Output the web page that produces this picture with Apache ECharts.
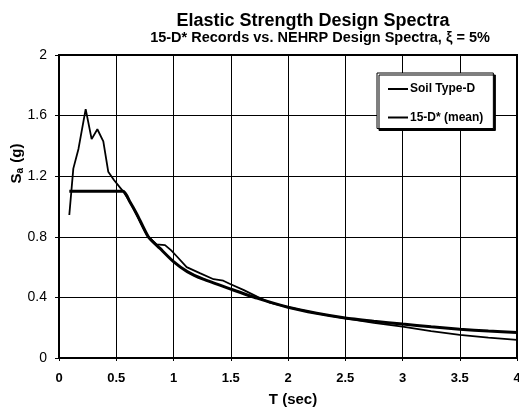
<!DOCTYPE html>
<html>
<head>
<meta charset="utf-8">
<script src="https://cdn.jsdelivr.net/npm/echarts@6/dist/echarts.min.js"></script>
<style>
  html, body { margin: 0; padding: 0; background: #fff; }
  #chart { width: 519px; height: 410px; }
</style>
</head>
<body>
<div id="chart"></div>
<script>
// NEHRP design spectrum for soil type D: period (s) and spectral acceleration (g)
var designT  = [0.09, 0.56, 0.62, 0.68, 0.78, 0.88, 1.0, 1.12, 1.26, 1.5, 1.73, 2.0, 2.25, 2.5, 2.75, 3.0, 3.25, 3.5, 3.75, 4.0];
var designSa = [1.1, 1.1, 1.03, 0.95, 0.80, 0.725, 0.636, 0.57, 0.52, 0.455, 0.395, 0.335, 0.295, 0.264, 0.243, 0.224, 0.206, 0.19, 0.178, 0.168];

// Mean elastic spectrum of the 15 soil-D records
var meanT  = [0.09, 0.125, 0.17, 0.233, 0.285, 0.335, 0.387, 0.43, 0.48, 0.56, 0.62, 0.68, 0.77, 0.85, 0.926, 0.98, 1.03, 1.115, 1.23, 1.35, 1.435, 1.49, 1.61, 1.73, 1.84, 2.0, 2.25, 2.5, 2.75, 3.0, 3.25, 3.5, 3.75, 4.0];
var meanSa = [0.944, 1.25, 1.38, 1.643, 1.445, 1.51, 1.43, 1.23, 1.175, 1.1, 1.03, 0.94, 0.81, 0.75, 0.745, 0.71, 0.67, 0.60, 0.56, 0.52, 0.51, 0.49, 0.45, 0.405, 0.365, 0.335, 0.295, 0.262, 0.232, 0.207, 0.178, 0.152, 0.135, 0.119];

var seriesNames = ['Soil Type-D', '15-D* (mean)'];
var titleText = 'Elastic Strength Design Spectra';
var subtitleText = '15-D* Records vs. NEHRP Design Spectra, \u03BE = 5%';

function pairs(xs, ys) {
  return xs.map(function (x, i) { return [x, ys[i]]; });
}

var font = '"Liberation Sans", Arial, Helvetica, sans-serif';
var chart = echarts.init(document.getElementById('chart'), null, { renderer: 'canvas' });

chart.setOption({
  animation: false,
  backgroundColor: '#fff',
  textStyle: { fontFamily: font, color: '#000' },
  title: [
    {
      text: titleText,
      left: 308, top: 7, textAlign: 'center',
      textStyle: { fontFamily: font, fontSize: 18, fontWeight: 'bold', color: '#000' }
    },
    {
      text: subtitleText,
      left: 315, top: 25, textAlign: 'center',
      textStyle: { fontFamily: font, fontSize: 14.5, fontWeight: 'bold', color: '#000' }
    }
  ],
  legend: {
    orient: 'vertical',
    left: 377, top: 73,
    padding: [10, 10, 5, 11],
    icon: 'rect',
    itemWidth: 20, itemHeight: 2, itemGap: 16.5,
    backgroundColor: '#fff',
    borderColor: '#000', borderWidth: 1,
    shadowColor: '#000', shadowBlur: 0, shadowOffsetX: 2, shadowOffsetY: 2,
    itemStyle: { color: '#000', borderWidth: 0 },
    textStyle: { fontFamily: font, fontSize: 12, fontWeight: 'bold', color: '#000', padding: [0, 0, 0, -3] },
    data: seriesNames
  },
  grid: {
    left: 59, right: 2, top: 55, bottom: 52,
    outerBoundsMode: 'none', containLabel: false,
    show: true, borderColor: '#000', borderWidth: 2
  },
  xAxis: {
    type: 'value', min: 0, max: 4, interval: 0.5,
    name: 'T (sec)', nameLocation: 'middle', nameGap: 34, nameMoveOverlap: false,
    nameTextStyle: { fontFamily: font, fontSize: 15, fontWeight: 'bold', color: '#000', padding: [0, 0, 0, 10] },
    axisLine: { lineStyle: { color: '#000', width: 2 } },
    axisTick: { show: true, inside: false, length: 3, lineStyle: { color: '#000' } },
    axisLabel: { fontFamily: font, fontSize: 13, fontWeight: 'bold', color: '#000', margin: 14 },
    splitLine: { show: true, lineStyle: { color: '#000', width: 1 } }
  },
  yAxis: {
    type: 'value', min: 0, max: 2, interval: 0.4,
    name: '{s|S}{sub|a}{s| (g)}', nameLocation: 'middle', nameGap: 34, nameRotate: 90, nameMoveOverlap: false,
    nameTextStyle: {
      padding: [0, 0, 0, 86],
      rich: {
        s: { fontFamily: font, fontSize: 15, fontWeight: 'bold', color: '#000' },
        sub: { fontFamily: font, fontSize: 10, fontWeight: 'bold', color: '#000', padding: [6, 1, 0, 0] }
      }
    },
    axisLine: { lineStyle: { color: '#000', width: 2 } },
    axisTick: { show: true, inside: false, length: 4, lineStyle: { color: '#000' } },
    axisLabel: { fontFamily: font, fontSize: 14, color: '#000', margin: 12 },
    splitLine: { show: true, lineStyle: { color: '#000', width: 1 } }
  },
  series: [
    {
      name: seriesNames[0], type: 'line',
      data: pairs(designT, designSa),
      showSymbol: false, symbol: 'none', smooth: 0.2,
      lineStyle: { color: '#000', width: 3 },
      itemStyle: { color: '#000' },
      z: 3
    },
    {
      name: seriesNames[1], type: 'line',
      data: pairs(meanT, meanSa),
      showSymbol: false, symbol: 'none', smooth: false,
      lineStyle: { color: '#000', width: 1.8 },
      itemStyle: { color: '#000' },
      z: 4
    }
  ]
});
</script>
</body>
</html>
